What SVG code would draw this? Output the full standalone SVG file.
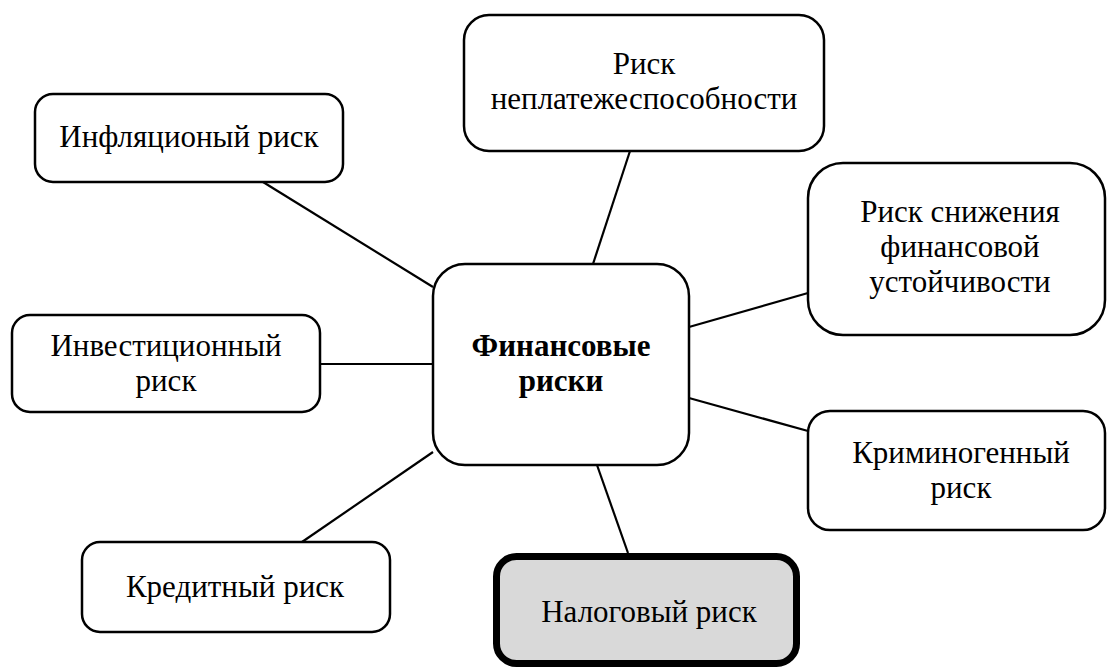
<svg xmlns="http://www.w3.org/2000/svg" width="1107" height="668" viewBox="0 0 1107 668">
<style>
.box{fill:#fff;stroke:#000;stroke-width:2.5}
.t{font-family:'Liberation Serif','Times New Roman','DejaVu Serif',serif;font-size:31px;fill:#000;text-anchor:middle}
.b{font-weight:bold}
.ln{stroke:#000;stroke-width:2.2;fill:none}
</style>
<rect width="1107" height="668" fill="#fff"/>
<g id="connectors">
<line class="ln" x1="630" y1="151" x2="593" y2="264"/>
<line class="ln" x1="689" y1="327" x2="808" y2="293"/>
<line class="ln" x1="689" y1="398" x2="808" y2="431"/>
<line class="ln" x1="597" y1="465" x2="628" y2="553"/>
<line class="ln" x1="263" y1="182" x2="433" y2="287"/>
<line class="ln" x1="320" y1="364" x2="433" y2="364"/>
<line class="ln" x1="433" y1="452" x2="302" y2="542"/>
</g>
<g id="center">
<rect class="box" x="433" y="264" width="256" height="201" rx="32"/>
<text class="t b"><tspan x="561" y="356">Финансовые</tspan><tspan x="561" y="391">риски</tspan></text>
</g>
<g id="top">
<rect class="box" x="464" y="15" width="360" height="136" rx="25"/>
<text class="t"><tspan x="644" y="74">Риск</tspan><tspan x="644" y="109">неплатежеспособности</tspan></text>
</g>
<g id="inflation">
<rect class="box" x="35" y="94" width="308" height="88" rx="18"/>
<text class="t" x="189" y="147">Инфляционый риск</text>
</g>
<g id="stability">
<rect class="box" x="808" y="163" width="297" height="172" rx="35"/>
<text class="t"><tspan x="960" y="222">Риск снижения</tspan><tspan x="960" y="257">финансовой</tspan><tspan x="960" y="292">устойчивости</tspan></text>
</g>
<g id="investment">
<rect class="box" x="12" y="315" width="308" height="97" rx="18"/>
<text class="t"><tspan x="166" y="356">Инвестиционный</tspan><tspan x="166" y="391">риск</tspan></text>
</g>
<g id="criminal">
<rect class="box" x="808" y="411" width="297" height="119" rx="22"/>
<text class="t"><tspan x="961" y="463">Криминогенный</tspan><tspan x="961" y="498">риск</tspan></text>
</g>
<g id="credit">
<rect class="box" x="82" y="542" width="308" height="90" rx="18"/>
<text class="t" x="235" y="597">Кредитный риск</text>
</g>
<g id="tax">
<rect x="496.5" y="556.5" width="300" height="107" rx="20" fill="#d9d9d9" stroke="#000" stroke-width="7"/>
<text class="t" x="649" y="622">Налоговый риск</text>
</g>
</svg>
